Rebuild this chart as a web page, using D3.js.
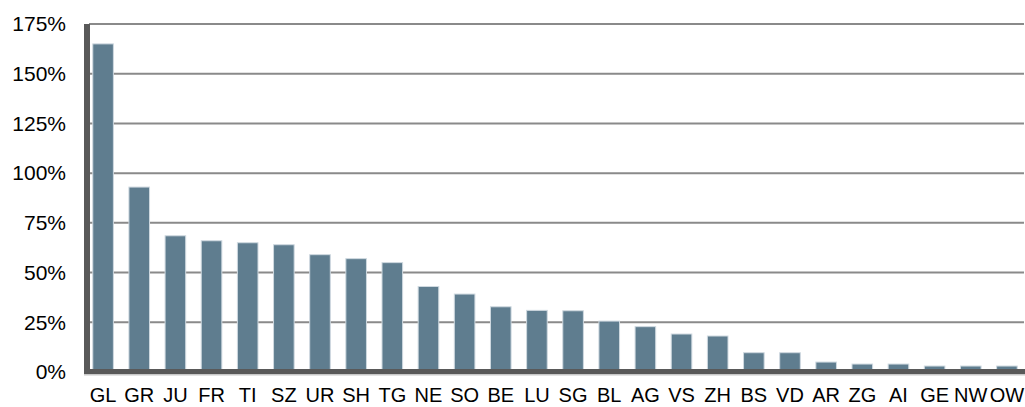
<!DOCTYPE html>
<html lang="en">
<head>
    <meta charset="UTF-8">
    <title>Chart</title>
    <script src="https://cdn.jsdelivr.net/npm/d3@7/dist/d3.min.js"></script>
    <style>
        body { margin: 0; background: #fff; }
    </style>
</head>
<body>
    <svg width="1025" height="407" id="mainsvg"></svg>
    <script>
        const categories = ['GL', 'GR', 'JU', 'FR', 'TI', 'SZ', 'UR', 'SH', 'TG', 'NE', 'SO', 'BE', 'LU',
            'SG', 'BL', 'AG', 'VS', 'ZH', 'BS', 'VD', 'AR', 'ZG', 'AI', 'GE', 'NW', 'OW']
        const values = [1.65, 0.93, 0.685, 0.66, 0.65, 0.64, 0.59, 0.57, 0.55, 0.43, 0.392, 0.328, 0.31,
            0.308, 0.256, 0.228, 0.191, 0.181, 0.097, 0.097, 0.05, 0.04, 0.04, 0.03, 0.03, 0.03]
        const yTicks = [0, 0.25, 0.5, 0.75, 1, 1.25, 1.5, 1.75]

        const data = categories.map((c, i) => ({ name: c, value: values[i] }))

        const svg = d3.select('#mainsvg')
        const font = '"Liberation Sans", Arial, sans-serif'

        const x = d3.scaleBand()
            .domain(categories)
            .range([85, 1025])
            .paddingInner(0.43)
            .paddingOuter(0.215)

        const y = d3.scaleLinear()
            .domain([0, 1.75])
            .range([372, 24])

        // gridlines
        svg.append('g').selectAll('line')
            .data(yTicks.filter(d => d > 0))
            .join('line')
            .attr('x1', 89).attr('x2', 1024)
            .attr('y1', d => y(d)).attr('y2', d => y(d))
            .attr('stroke', '#8a8a8a')
            .attr('stroke-width', 2)

        // bars
        svg.append('g').selectAll('rect')
            .data(data)
            .join('rect')
            .attr('x', d => x(d.name))
            .attr('y', d => y(d.value))
            .attr('width', x.bandwidth())
            .attr('height', d => y(0) - y(d.value))
            .attr('fill', '#5f7d8f')
            .attr('stroke', '#cfd9e0')
            .attr('stroke-width', 1)

        // axis lines (thick, with a light edge)
        svg.append('rect').attr('x', 84).attr('y', 24).attr('width', 6).attr('height', 351).attr('fill', '#595959')
        svg.append('rect').attr('x', 84).attr('y', 374).attr('width', 941).attr('height', 1.5).attr('fill', '#c8c8c8')
        svg.append('rect').attr('x', 84).attr('y', 369).attr('width', 941).attr('height', 5).attr('fill', '#595959')

        // y axis labels
        const yAxis = d3.axisLeft(y)
            .tickValues(yTicks)
            .tickFormat(d3.format('.0%'))
            .tickSize(0)
            .tickPadding(4)
        const yg = svg.append('g').attr('transform', 'translate(70,0)').call(yAxis)
        yg.select('.domain').remove()
        yg.selectAll('text').attr('font-size', '21px').attr('font-family', font).attr('fill', '#000')

        // x axis labels
        const xAxis = d3.axisBottom(x).tickSize(0).tickPadding(14)
        const xg = svg.append('g').attr('transform', 'translate(0,374)').call(xAxis)
        xg.select('.domain').remove()
        xg.selectAll('text').attr('font-size', '20px').attr('font-family', font).attr('fill', '#000')
    </script>
</body>
</html>
